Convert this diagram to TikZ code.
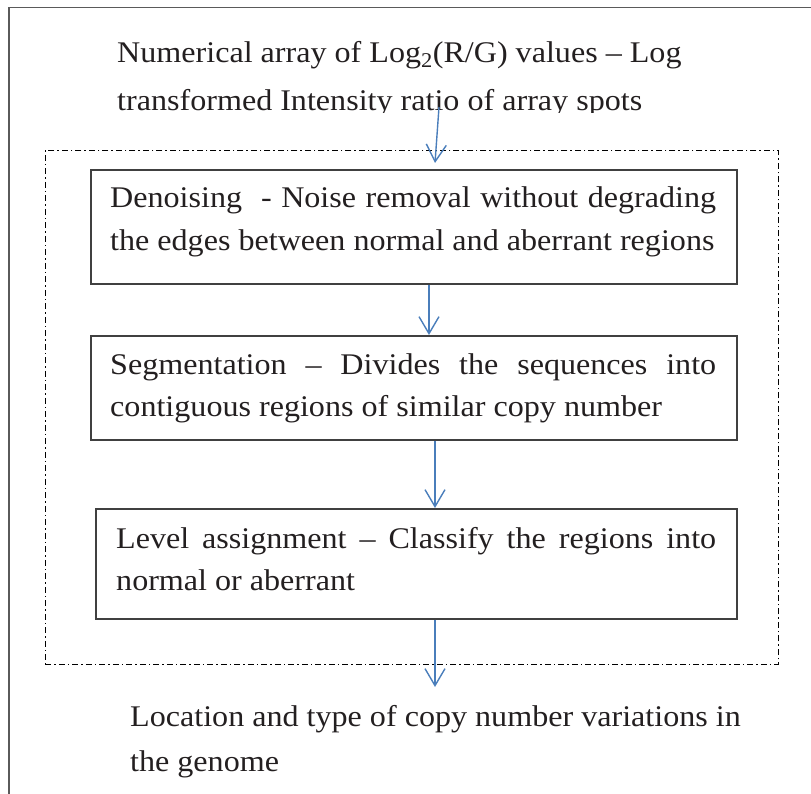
\documentclass[tikz,border=0pt]{standalone}
\usepackage{fontspec}
\setmainfont{Liberation Serif}[FakeStretch=1.07]
\usetikzlibrary{arrows.meta}
\definecolor{arrowblue}{HTML}{4A7EBB}
\definecolor{txt}{HTML}{231F20}
\definecolor{boxgray}{HTML}{404040}
\definecolor{framegray}{HTML}{5A5A5A}
\begin{document}
\begin{tikzpicture}[x=1pt,y=-1pt,
  flowbox/.style={draw=boxgray, line width=1.6pt, minimum width=646pt, anchor=north west, inner sep=0pt},
  boxtext/.style={anchor=base west, inner sep=0pt, text width=606pt, align=justify, font=\fontsize{30}{42.5}\selectfont, text=txt},
  freetext/.style={anchor=base west, inner sep=0pt, align=left, text=txt},
  flowarrow/.style={draw=arrowblue, line width=1.4pt, -{Straight Barb[length=17pt,width=20pt,line width=1.4pt]}},
  groupframe/.style={draw=black, line width=0.8pt, dash pattern=on 6pt off 3pt on 1.5pt off 3pt, anchor=north west, inner sep=0pt}
]
\useasboundingbox (0,0) rectangle (811,794);
% outer frame (extends past right and bottom edges)
\node[draw=framegray, line width=1.5pt, anchor=north west, minimum width=830pt, minimum height=820pt, inner sep=0pt] (frame) at (8,7) {};
% dashed group
\node[groupframe, minimum width=733pt, minimum height=514pt] (group) at (45,150) {};
% boxes
\node[flowbox, minimum height=114pt] (box1) at (90,169) {};
\node[flowbox, minimum height=104pt] (box2) at (90,335) {};
\node[flowbox, minimum width=641pt, minimum height=110pt] (box3) at (95,508) {};
% box texts
\node[boxtext] (t1) at (110,208) {Denoising\ \ - Noise removal without degrading\linebreak the edges between normal and aberrant regions};
\node[boxtext] (t2) at (110,374) {Segmentation -- Divides the sequences into\linebreak contiguous regions of similar copy number};
\node[boxtext, text width=600pt] (t3) at (116,548) {Level assignment -- Classify the regions into\linebreak normal or aberrant};
% top text (clipped like the original)
\begin{scope}
\clip (0,0) rectangle (811,113);
\node[freetext, font=\fontsize{30}{48.5}\selectfont] (src) at (117,111) {Numerical array of Log\textsubscript{2}(R/G) values -- Log\\transformed Intensity ratio of array spots};
\end{scope}
% bottom text
\node[freetext, font=\fontsize{30}{44.5}\selectfont] (dst) at (130,771) {Location and type of copy number variations in\\the genome};
% arrow anchor coordinates
\coordinate (a1s) at (439,107);
\coordinate (a1e) at (435,163);
\coordinate (x2) at (429,0);
\coordinate (x3) at (435,0);
\coordinate (a4e) at (435,687);
\draw[flowarrow] (a1s) -- (a1e);
\draw[flowarrow] (x2 |- box1.south) -- (x2 |- box2.north);
\draw[flowarrow] (x3 |- box2.south) -- (x3 |- box3.north);
\draw[flowarrow] (x3 |- box3.south) -- (a4e);
\end{tikzpicture}
\end{document}
